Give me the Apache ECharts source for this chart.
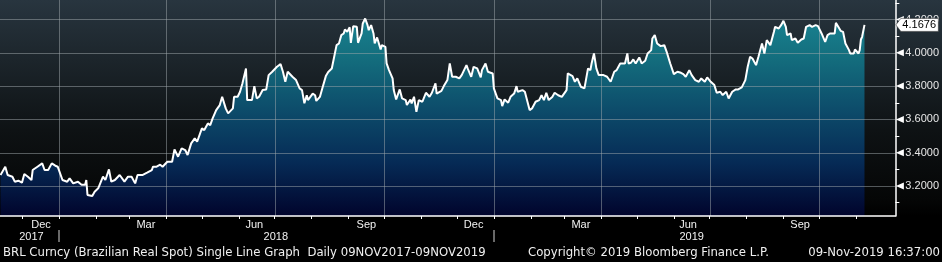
<!DOCTYPE html>
<html><head><meta charset="utf-8">
<script src="https://cdn.jsdelivr.net/npm/echarts@6/dist/echarts.min.js"></script>
<style>
html,body{margin:0;padding:0;background:#000;}
#c{width:942px;height:262px;background:linear-gradient(to bottom,#28353f 0px,#1c252b 60px,#0e1214 130px,#050606 200px,#000 216px,#000 262px);}
</style>
</head><body><div id="c"></div>
<script>
// ---- data ----
const dates = [
'2017-11-13','2017-11-17','2017-11-19','2017-11-23','2017-11-25','2017-11-28','2017-12-01','2017-12-03','2017-12-06','2017-12-09','2017-12-10','2017-12-14','2017-12-18','2017-12-20','2017-12-23','2017-12-26','2017-12-29','2017-12-31',
'2018-01-04','2018-01-08','2018-01-10','2018-01-13','2018-01-17','2018-01-20','2018-01-23','2018-01-24','2018-01-25','2018-01-29','2018-01-31','2018-02-03','2018-02-04','2018-02-07','2018-02-09','2018-02-12','2018-02-14','2018-02-17','2018-02-21','2018-02-25','2018-02-28',
'2018-03-03','2018-03-06','2018-03-08','2018-03-12','2018-03-16','2018-03-20','2018-03-21','2018-03-24','2018-03-27','2018-03-29',
'2018-04-02','2018-04-06','2018-04-08','2018-04-11','2018-04-14','2018-04-17','2018-04-19','2018-04-22','2018-04-25','2018-04-27',
'2018-05-01','2018-05-03','2018-05-06','2018-05-08','2018-05-10','2018-05-13','2018-05-16','2018-05-18','2018-05-21','2018-05-23','2018-05-27','2018-05-28','2018-05-31',
'2018-06-02','2018-06-04','2018-06-07','2018-06-08','2018-06-12','2018-06-14','2018-06-16','2018-06-18','2018-06-21','2018-06-24','2018-06-26','2018-06-29',
'2018-07-03','2018-07-06','2018-07-08','2018-07-10','2018-07-12','2018-07-16','2018-07-19','2018-07-22','2018-07-24','2018-07-26','2018-07-28','2018-07-29',
'2018-08-02','2018-08-04','2018-08-05','2018-08-08','2018-08-10','2018-08-13','2018-08-15','2018-08-18','2018-08-19','2018-08-22','2018-08-24','2018-08-26','2018-08-28','2018-08-29','2018-08-31',
'2018-09-02','2018-09-03','2018-09-05','2018-09-08','2018-09-09','2018-09-12','2018-09-13','2018-09-15','2018-09-17','2018-09-18','2018-09-20','2018-09-22','2018-09-23','2018-09-25','2018-09-28','2018-09-29',
'2018-10-02','2018-10-03','2018-10-05','2018-10-08','2018-10-09','2018-10-11','2018-10-14','2018-10-16','2018-10-19','2018-10-20','2018-10-23','2018-10-24','2018-10-26','2018-10-28','2018-10-30',
'2018-11-02','2018-11-05','2018-11-08','2018-11-10','2018-11-13','2018-11-14','2018-11-18','2018-11-20','2018-11-23','2018-11-25','2018-11-27','2018-11-30',
'2018-12-03','2018-12-05','2018-12-09','2018-12-10','2018-12-13','2018-12-15','2018-12-18','2018-12-21','2018-12-22','2018-12-25','2018-12-27','2018-12-31',
'2019-01-01','2019-01-04','2019-01-07','2019-01-08','2019-01-10','2019-01-13','2019-01-15','2019-01-18','2019-01-20','2019-01-21','2019-01-25','2019-01-27','2019-01-31',
'2019-02-02','2019-02-05','2019-02-08','2019-02-10','2019-02-12','2019-02-14','2019-02-16','2019-02-19','2019-02-21','2019-02-24','2019-02-27',
'2019-03-03','2019-03-04','2019-03-08','2019-03-10','2019-03-12','2019-03-15','2019-03-18','2019-03-19','2019-03-21','2019-03-23','2019-03-24','2019-03-26','2019-03-28','2019-03-30',
'2019-04-03','2019-04-06','2019-04-09','2019-04-12','2019-04-14','2019-04-17','2019-04-18','2019-04-21','2019-04-23','2019-04-24','2019-04-26','2019-04-28','2019-04-30',
'2019-05-03','2019-05-05','2019-05-08','2019-05-10','2019-05-13','2019-05-14','2019-05-16','2019-05-18','2019-05-21','2019-05-24','2019-05-26','2019-05-29',
'2019-06-01','2019-06-04','2019-06-07','2019-06-09','2019-06-11','2019-06-14','2019-06-16','2019-06-19','2019-06-22','2019-06-24','2019-06-27','2019-06-29',
'2019-07-02','2019-07-05','2019-07-07','2019-07-10','2019-07-12','2019-07-15','2019-07-17','2019-07-20','2019-07-23','2019-07-25','2019-07-28','2019-07-31',
'2019-08-02','2019-08-04','2019-08-06','2019-08-09','2019-08-11','2019-08-14','2019-08-16','2019-08-18','2019-08-21','2019-08-24','2019-08-25','2019-08-28','2019-08-30',
'2019-09-01','2019-09-03','2019-09-04','2019-09-07','2019-09-08','2019-09-11','2019-09-13','2019-09-16','2019-09-18','2019-09-20','2019-09-23','2019-09-25','2019-09-28','2019-09-30',
'2019-10-03','2019-10-06','2019-10-08','2019-10-10','2019-10-14','2019-10-15','2019-10-17','2019-10-19','2019-10-21','2019-10-23','2019-10-26','2019-10-27','2019-10-30','2019-10-31',
'2019-11-03','2019-11-04','2019-11-05','2019-11-06','2019-11-08'
];
const values = [
3.266,3.316,3.266,3.256,3.226,3.232,3.22,3.272,3.256,3.236,3.296,3.316,3.336,3.296,3.296,3.336,3.322,3.316,
3.236,3.226,3.246,3.216,3.226,3.208,3.208,3.236,3.146,3.14,3.166,3.186,3.176,3.256,3.236,3.3,3.226,3.236,3.266,3.226,3.256,
3.256,3.216,3.266,3.266,3.28,3.296,3.316,3.316,3.328,3.316,
3.346,3.346,3.42,3.376,3.426,3.416,3.386,3.456,3.486,3.466,
3.546,3.536,3.576,3.566,3.606,3.656,3.686,3.736,3.666,3.636,3.666,3.736,3.736,
3.766,3.816,3.906,3.716,3.716,3.8,3.726,3.736,3.776,3.78,3.866,3.886,
3.916,3.932,3.886,3.826,3.886,3.856,3.836,3.786,3.776,3.697,3.745,3.716,
3.755,3.745,3.711,3.735,3.786,3.86,3.885,3.906,3.916,4.046,4.056,4.106,4.116,4.14,4.126,
4.153,4.06,4.16,4.156,4.06,4.116,4.176,4.206,4.166,4.136,4.166,4.116,4.056,4.092,4.02,4.046,
4.036,3.936,3.896,3.846,3.776,3.72,3.78,3.726,3.716,3.686,3.72,3.696,3.736,3.646,3.716,
3.706,3.76,3.736,3.76,3.816,3.755,3.771,3.8,3.836,3.936,3.856,3.856,
3.846,3.866,3.926,3.906,3.856,3.916,3.906,3.852,3.896,3.936,3.886,3.876,
3.786,3.726,3.716,3.68,3.72,3.7,3.736,3.755,3.8,3.766,3.776,3.766,3.656,
3.666,3.706,3.716,3.745,3.716,3.76,3.716,3.735,3.76,3.745,3.735,
3.776,3.876,3.86,3.826,3.846,3.796,3.786,3.786,3.906,3.896,3.936,3.996,3.906,3.866,
3.866,3.856,3.826,3.886,3.896,3.936,3.946,3.936,3.996,3.936,3.94,3.96,3.936,
3.972,3.936,3.952,3.996,4.016,4.086,4.106,4.056,4.04,4.046,4.006,3.936,
3.872,3.886,3.88,3.872,3.856,3.896,3.866,3.836,3.826,3.846,3.826,3.852,
3.826,3.806,3.76,3.766,3.746,3.766,3.726,3.766,3.78,3.78,3.792,3.836,
3.916,3.976,3.966,3.926,3.976,4.056,3.996,4.076,4.046,4.126,4.156,4.146,4.166,
4.192,4.156,4.106,4.116,4.076,4.086,4.06,4.08,4.086,4.156,4.166,4.156,4.166,4.16,
4.116,4.066,4.106,4.116,4.116,4.18,4.156,4.132,4.126,4.056,4.016,3.996,3.996,4.02,
3.996,4.016,4.08,4.096,4.1676
];
const xRange = ['2017-11-12 14:00:00', '2019-12-03 21:30:00'];
const yRange = [3.02, 4.317];
const yLabelTicks = [3.2, 3.4, 3.6, 3.8, 4.0, 4.2];
const yMinorTicks = [3.1, 3.3, 3.5, 3.7, 3.9, 4.1, 4.3];
const monthStarts = ['2017-12-01','2018-01-01','2018-02-01','2018-03-01','2018-04-01','2018-05-01','2018-06-01','2018-07-01','2018-08-01','2018-09-01','2018-10-01','2018-11-01','2018-12-01',
  '2019-01-01','2019-02-01','2019-03-01','2019-04-01','2019-05-01','2019-06-01','2019-07-01','2019-08-01','2019-09-01','2019-10-01','2019-11-01'];
const quarterStarts = ['2018-01-01','2018-04-01','2018-07-01','2018-10-01','2019-01-01','2019-04-01','2019-07-01','2019-10-01'];
const monthLabelDates = ['2017-12-17','2018-03-15','2018-06-14','2018-09-16','2018-12-15','2019-03-15','2019-06-13','2019-09-15'];
const monthLabelTexts = ['Dec','Mar','Jun','Sep','Dec','Mar','Jun','Sep'];
const yearStarts = ['2018-01-01','2019-01-01'];
const yearLabelDates = ['2017-12-09','2018-07-02','2019-06-16'];
const yearLabelTexts = ['2017','2018','2019'];
const footerLeft = 'BRL Curncy (Brazilian Real Spot) Single Line Graph  Daily 09NOV2017-09NOV2019';
const footerMid = 'Copyright\u00A9 2019 Bloomberg Finance L.P.';
const footerRight = '09-Nov-2019 16:37:00';

// ---- chart ----
const ts = s => echarts.time.parse(s).getTime();
const seriesData = dates.map((d, i) => [ts(d), values[i]]);
const lastPoint = seriesData[seriesData.length - 1];
const xMin = ts(xRange[0]), xMax = ts(xRange[1]);
const monthLabelTs = monthLabelDates.map(ts);
const yearLabelTs = yearLabelDates.map(ts);
const FONT = 'Liberation Sans';
const labelFor = (list, texts) => v => {
  let best = 0, bd = Infinity;
  list.forEach((t, i) => { const dd = Math.abs(t - v); if (dd < bd) { bd = dd; best = i; } });
  return texts[best];
};
const GRID_COLOR = 'rgba(160,168,172,0.5)';

const chart = echarts.init(document.getElementById('c'), null, { renderer: 'canvas' });
chart.setOption({
  animation: false,
  backgroundColor: 'transparent',
  grid: { left: 0, right: 45, top: 0, bottom: 46, containLabel: false },
  xAxis: [
    { type: 'value', position: 'bottom', min: xMin, max: xMax, z: 3,
      axisLine: { show: true, lineStyle: { color: '#ffffff', width: 1.5 } },
      axisTick: { show: true, customValues: monthStarts.map(ts), length: 3, lineStyle: { color: '#ffffff', width: 1 } },
      axisLabel: { show: true, customValues: monthLabelTs, formatter: labelFor(monthLabelTs, monthLabelTexts),
        margin: 3, color: '#f2f2f2', fontSize: 11, fontFamily: FONT, hideOverlap: false },
      splitLine: { show: false } },
    { type: 'value', position: 'bottom', offset: 14, min: xMin, max: xMax, z: 3,
      axisLine: { show: false },
      axisTick: { show: true, customValues: yearStarts.map(ts), length: 12, lineStyle: { color: '#8c8c8c', width: 1.5 } },
      axisLabel: { show: true, customValues: yearLabelTs, formatter: labelFor(yearLabelTs, yearLabelTexts),
        margin: 1, color: '#f2f2f2', fontSize: 11, fontFamily: FONT, hideOverlap: false },
      splitLine: { show: false } }
  ],
  yAxis: [
    { type: 'value', position: 'right', min: yRange[0], max: yRange[1], z: 3,
      axisLine: { show: true, lineStyle: { color: '#ffffff', width: 1.5 } },
      axisTick: { show: true, customValues: yMinorTicks, length: 4, lineStyle: { color: '#ffffff', width: 1 } },
      axisLabel: { show: true, customValues: yLabelTicks, formatter: v => v.toFixed(4),
        margin: 10, color: '#e8e8e8', fontSize: 11, fontFamily: FONT },
      splitLine: { show: false } }
  ],
  series: [
    { type: 'line', name: 'BRL area', data: seriesData, xAxisIndex: 0, yAxisIndex: 0, z: 1,
      showSymbol: false, silent: true, lineStyle: { width: 0, opacity: 0 },
      areaStyle: { origin: 'start', opacity: 1,
        color: new echarts.graphic.LinearGradient(0, 0, 0, 216, [
          { offset: 0, color: '#1b8a9a' },
          { offset: 0.25, color: '#14707f' },
          { offset: 0.5, color: '#0d4d6b' },
          { offset: 0.75, color: '#062b56' },
          { offset: 1, color: '#01042c' }
        ], true) } },
    { type: 'custom', name: 'gridLines', xAxisIndex: 0, yAxisIndex: 0, z: 3, clip: false, silent: true,
      data: yLabelTicks.map(v => [xMax, v]).concat(quarterStarts.map(d => [ts(d), yRange[1]])),
      renderItem: (params, api) => {
        const cs = params.coordSys;
        const p = api.coord([api.value(0), api.value(1)]);
        const horiz = params.dataIndex < yLabelTicks.length;
        const shape = horiz
          ? { x: cs.x, y: Math.round(p[1]), width: cs.width, height: 1 }
          : { x: Math.round(p[0]), y: cs.y, width: 1, height: cs.height };
        return { type: 'rect', shape: shape, style: { fill: GRID_COLOR } };
      } },
    { type: 'line', name: 'BRL', data: seriesData, xAxisIndex: 0, yAxisIndex: 0, z: 5,
      showSymbol: false, silent: true, lineStyle: { color: '#ffffff', width: 2 } },
    { type: 'custom', name: 'yMarkers', xAxisIndex: 0, yAxisIndex: 0, z: 6, clip: false, silent: true,
      data: yLabelTicks.map(v => [xMax, v]),
      renderItem: (params, api) => {
        const y = api.coord([api.value(0), api.value(1)])[1];
        const x = params.coordSys.x + params.coordSys.width;
        return { type: 'polygon', shape: { points: [[x + 0.5, y], [x + 8.5, y - 3.5], [x + 8.5, y + 3.5]] },
          style: { fill: '#ffffff' } };
      } },
    { type: 'custom', name: 'lastTag', xAxisIndex: 0, yAxisIndex: 0, z: 7, clip: false, silent: true,
      data: [lastPoint],
      renderItem: (params, api) => {
        const y = api.coord([api.value(0), api.value(1)])[1];
        const x = params.coordSys.x + params.coordSys.width;
        return { type: 'group', children: [
          { type: 'polygon', shape: { points: [[x + 0.5, y], [x + 5.5, y - 6.5], [x + 43, y - 6.5], [x + 43, y + 6.5], [x + 5.5, y + 6.5]] },
            style: { fill: '#ffffff', stroke: '#222', lineWidth: 0.5 } },
          { type: 'text', style: { text: lastPoint[1].toFixed(4), x: x + 7, y: y + 0.5, verticalAlign: 'middle', align: 'left',
            fill: '#000000', font: '11px "' + FONT + '"' } }
        ] };
      } }
  ],
  graphic: [
    { type: 'text', left: 3, top: 247, silent: true, style: { text: footerLeft, fill: '#f0f0f0', font: '11.7px "DejaVu Sans"' } },
    { type: 'text', left: 528, top: 247, silent: true, style: { text: footerMid, fill: '#f0f0f0', font: '11.7px "DejaVu Sans"' } },
    { type: 'text', right: 2, top: 247, silent: true, style: { text: footerRight, fill: '#f0f0f0', font: '11.7px "DejaVu Sans"' } }
  ]
});
</script>
</body></html>
